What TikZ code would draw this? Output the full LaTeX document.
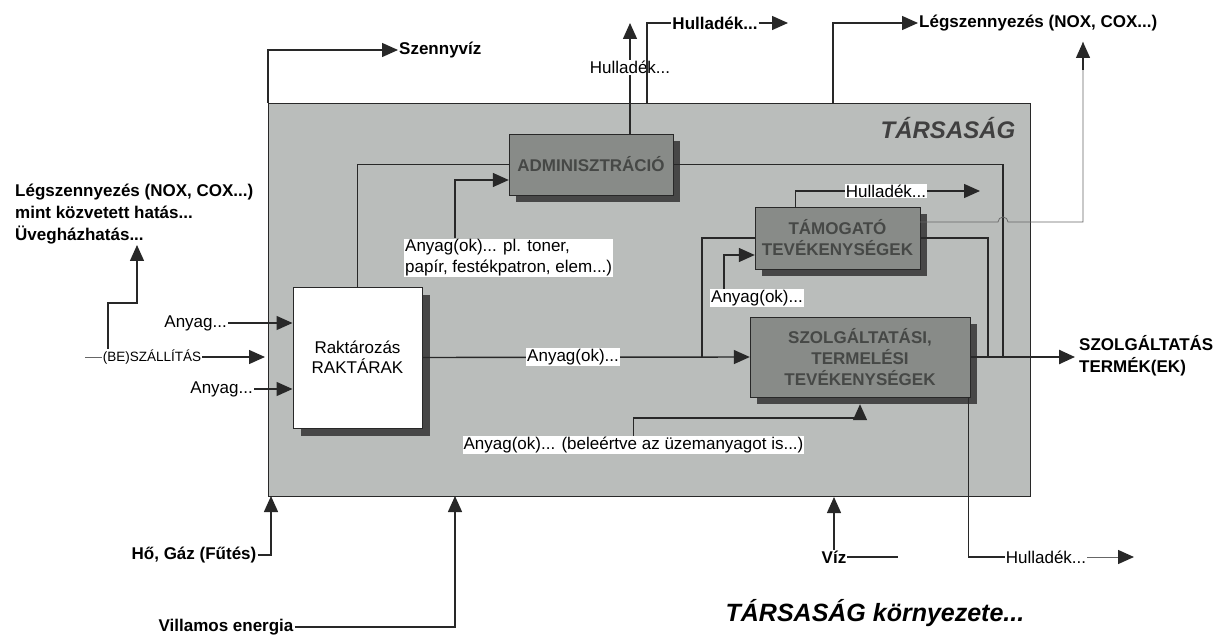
\documentclass[tikz,border=0pt]{standalone}
\usepackage{fontspec}
\setmainfont{Liberation Sans}
\usetikzlibrary{arrows.meta}
\usetikzlibrary{shadows}
\definecolor{tarsgray}{RGB}{186,189,187}
\definecolor{procgray}{RGB}{136,139,136}
\definecolor{proctext}{RGB}{70,72,70}
\definecolor{linegray}{RGB}{40,40,40}
\tikzset{
  lbl/.style={font=\fontsize{17}{21}\selectfont, inner sep=1pt},
  wlbl/.style={lbl, fill=white},
  blbl/.style={lbl, font=\fontsize{17}{22}\selectfont\bfseries},
  procbox/.style={draw=linegray, fill=procgray, text=proctext, align=center, inner sep=0pt,
    font=\fontsize{17}{21}\selectfont\bfseries,
    drop shadow={shadow xshift=7pt, shadow yshift=-7pt, fill=black!72, opacity=1}},
  flow/.style={draw=linegray, line width=1.4pt},
  thinflow/.style={draw=black!60, line width=0.7pt},
  arr/.style={flow, -{Triangle[length=16pt,width=14pt]}},
}
\begin{document}
\begin{tikzpicture}[x=1pt,y=-1pt]
\useasboundingbox (0,0) rectangle (1228,636);
% the company
\node[draw=linegray, line width=1pt, fill=tarsgray, minimum width=762pt, minimum height=393pt,
  inner sep=0pt, anchor=north west] (tars) at (268,103) {};
\node[font=\fontsize{24}{28}\selectfont\bfseries\itshape, text=black!75] (tarsname) at (948,128) {TÁRSASÁG};
\node[font=\fontsize{25}{28}\selectfont\bfseries\itshape] (korny) at (875,613) {TÁRSASÁG környezete...};

% boxes
\node[draw=linegray, line width=1pt, fill=white, minimum width=129pt, minimum height=141pt, align=center,
  font=\fontsize{17}{20}\selectfont,
  drop shadow={shadow xshift=8pt, shadow yshift=-8pt, fill=black!72, opacity=1}] (raktar) at (357.5,357.5)
  {Raktározás\\RAKTÁRAK};
\node[procbox, minimum width=164pt, minimum height=61pt] (admin) at (591,164.5) {ADMINISZTRÁCIÓ};
\node[procbox, minimum width=165pt, minimum height=62pt] (tamog) at (837.5,238) {TÁMOGATÓ\\TEVÉKENYSÉGEK};
\node[procbox, minimum width=220pt, minimum height=80pt] (szolg) at (860,357) {SZOLGÁLTATÁSI,\\TERMELÉSI\\TEVÉKENYSÉGEK};

% labels
\node[blbl, align=left, anchor=west] (legleft) at (14,214) {Légszennyezés (NOX, COX...)\\mint közvetett hatás...\\Üvegházhatás...};
\node[lbl, font=\fontsize{13.5}{16}\selectfont] (besz) at (152,357) {(BE)SZÁLLÍTÁS};
\node[lbl, anchor=east] (anyu) at (228,323) {Anyag...};
\node[lbl, anchor=east] (anyl) at (254,389) {Anyag...};
\node[blbl, anchor=west] (szenny) at (398,50) {Szennyvíz};
\node[blbl] (hultop2) at (715,23) {Hulladék...};
\node[blbl, anchor=west] (legtop) at (918,23) {Légszennyezés (NOX, COX...)};
\node[wlbl, align=left, anchor=west] (anypl) at (404,258) {Anyag(ok)... pl. toner,\\papír, festékpatron, elem...)};
\node[wlbl] (hultam) at (886,191) {Hulladék...};
\node[wlbl] (anyt) at (757,298) {Anyag(ok)...};
\node[wlbl] (anyb) at (633.5,445) {Anyag(ok)... (beleértve az üzemanyagot is...)};
\node[blbl, align=left, anchor=west] (termek) at (1078,356) {SZOLGÁLTATÁS\\TERMÉK(EK)};
\node[lbl] (hulbot) at (1046,557) {Hulladék...};
\node[blbl] (viz) at (834,557) {Víz};
\node[blbl] (ho) at (194,555) {Hő, Gáz (Fűtés)};
\node[blbl] (vill) at (226,627) {Villamos energia};

% free ends
\coordinate (jA) at (1003,357);
\coordinate (jB) at (988,357);
\coordinate (jC) at (702,357);
\coordinate (outtip) at (1075,357);
\coordinate (hx) at (647,103);
\coordinate (lx) at (833,103);
\coordinate (hultop1) at (630,23);
\coordinate (hultop2tip) at (788,23);
\coordinate (hultamtip) at (980,191);
\coordinate (legarr) at (1083,42);
\coordinate (bendB) at (860,418);
\coordinate (hulbottip) at (1134,557);
\coordinate (vizend) at (898,557);
\coordinate (hotip) at (271,496);
\coordinate (villtip) at (455,496);
\coordinate (beszin) at (85,357);
\coordinate (besztip) at (265,357);
\coordinate (beszup) at (137,303);
\coordinate (legleftarr) at (137,245);

% out of the company
\draw[arr] (tars.north west) |- (szenny.west);
\draw[arr] ([xshift=39pt]admin.north) -- (hultop1) node[wlbl, pos=0.6] (hultop1lbl) {Hulladék...};
\draw[flow] (hx) |- (hultop2.west);
\draw[arr] (hultop2.east) -- (hultop2tip);
\draw[arr] (lx) |- (legtop.west);

% inside
\draw[flow] (raktar.north) |- (admin.west);
\draw[arr] ([xshift=51pt]anypl.north west) |- ([yshift=-15.5pt]admin.west);
\draw[flow] (admin.east) -| (jA);
\draw[flow] (tamog.east) -| (jB);
\draw[thinflow] ([yshift=16pt]tamog.east) -- (998,222) arc[start angle=180, end angle=0, radius=5pt] -- (1083,222) -- (legarr);
\draw[arr] (1083,70) -- (legarr);
\draw[flow] ([xshift=-42pt]tamog.north) |- (hultam.west);
\draw[arr] (hultam.east) -- (hultamtip);
\draw[arr] ([xshift=14pt]anyt.north west) |- ([yshift=-17pt]tamog.west);
\draw[flow] (jC) |- (tamog.west);
\draw[arr] (raktar.east) -- (szolg.west) node[wlbl, pos=0.46] (anym) {Anyag(ok)...};
\draw[arr] (anyb.north) |- (bendB) -- ([yshift=-7pt]szolg.south);
\draw[arr, line width=2.4pt] (szolg.east) -- (outtip);
\draw[flow] ([xshift=-2pt]szolg.south east) |- (hulbot.west);
\draw[thinflow] (hulbot.east) -- ([xshift=-12pt]hulbottip);
\draw[arr] ([xshift=-14pt]hulbottip) -- (hulbottip);

% into the company
\draw[thinflow] (beszin) -- (besz.west);
\draw[arr] (besz.east) -- (besztip);
\draw[arr] ([xshift=-44pt]besz.north) |- (beszup) -- (legleftarr);
\draw[arr] (anyu.east) -- (anyu.east -| raktar.west);
\draw[arr] (anyl.east) -- (anyl.east -| raktar.west);
\draw[arr] (viz.north) -- (viz.north |- tars.south);
\draw[flow] (viz.east) -- (vizend);
\draw[arr] (ho.east) -| (hotip);
\draw[arr] (vill.east) -| (villtip);
\end{tikzpicture}
\end{document}
